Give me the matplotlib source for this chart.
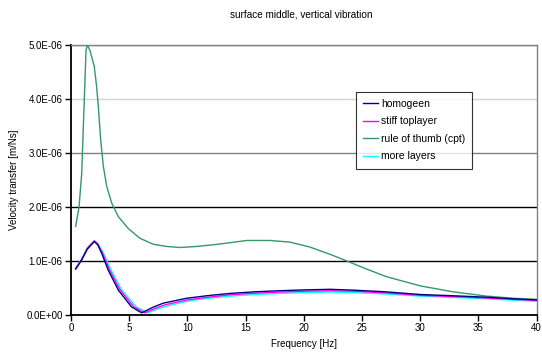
import matplotlib
matplotlib.use("Agg")
import matplotlib.pyplot as plt
from matplotlib.ticker import FuncFormatter

plt.rcParams['font.family'] = ['Liberation Sans', 'DejaVu Sans']

# Frequencies [Hz] and velocity transfer [m/Ns] per model
freq_rot = [0.4, 0.69, 0.92, 1.12, 1.29, 1.4, 1.63, 2.0, 2.2, 2.35, 2.55, 2.78, 3.07,
            3.5, 4.07, 4.93, 5.93, 7.07, 8.2, 9.36, 10.8, 12.2, 13.7, 15.1, 17.1, 18.8,
            20.5, 22.3, 23.7, 25.4, 27.1, 30.0, 32.8, 35.7, 38.0, 40.0]
v_rot = [1.64e-6, 2.0e-6, 2.62e-6, 3.86e-6, 4.9e-6, 5.0e-6, 4.9e-6, 4.6e-6, 4.23e-6,
         3.86e-6, 3.24e-6, 2.75e-6, 2.38e-6, 2.07e-6, 1.82e-6, 1.6e-6, 1.42e-6,
         1.31e-6, 1.27e-6, 1.25e-6, 1.27e-6, 1.30e-6, 1.34e-6, 1.38e-6, 1.38e-6,
         1.35e-6, 1.26e-6, 1.12e-6, 1.0e-6, 0.85e-6, 0.71e-6, 0.54e-6, 0.43e-6,
         0.35e-6, 0.31e-6, 0.29e-6]

freq_hom = [0.4, 0.92, 1.4, 2.0, 2.3, 2.64, 3.2, 4.07, 5.2, 6.07, 7.0, 7.93, 9.93,
            11.8, 13.66, 15.8, 17.96, 20.0, 22.25, 24.3, 27.0, 30.0, 33.0, 35.7, 38.0, 40.0]
v_hom = [0.85e-6, 1.02e-6, 1.22e-6, 1.36e-6, 1.30e-6, 1.14e-6, 0.83e-6, 0.46e-6,
         0.15e-6, 0.04e-6, 0.14e-6, 0.22e-6, 0.31e-6, 0.36e-6, 0.40e-6, 0.43e-6,
         0.45e-6, 0.465e-6, 0.476e-6, 0.46e-6, 0.43e-6, 0.38e-6, 0.355e-6, 0.33e-6,
         0.30e-6, 0.28e-6]

freq_stiff = [0.4, 0.92, 1.4, 2.0, 2.3, 2.7, 3.3, 4.2, 5.4, 6.35, 7.2, 8.1, 10.0,
              11.8, 13.66, 15.8, 17.96, 20.0, 22.25, 24.3, 27.0, 30.0, 33.0, 35.7, 38.0, 40.0]
v_stiff = [0.86e-6, 1.03e-6, 1.23e-6, 1.37e-6, 1.31e-6, 1.15e-6, 0.84e-6, 0.47e-6,
           0.15e-6, 0.04e-6, 0.12e-6, 0.19e-6, 0.28e-6, 0.33e-6, 0.375e-6, 0.405e-6,
           0.425e-6, 0.44e-6, 0.45e-6, 0.44e-6, 0.41e-6, 0.365e-6, 0.34e-6, 0.315e-6,
           0.29e-6, 0.27e-6]

freq_more = [0.4, 0.92, 1.4, 2.0, 2.3, 2.75, 3.4, 4.3, 5.6, 6.6, 7.4, 8.3, 10.1,
             11.8, 13.66, 15.8, 17.96, 20.0, 22.25, 24.3, 27.0, 30.0, 33.0, 35.7, 38.0, 40.0]
v_more = [0.87e-6, 1.04e-6, 1.25e-6, 1.38e-6, 1.33e-6, 1.16e-6, 0.85e-6, 0.48e-6,
          0.15e-6, 0.04e-6, 0.11e-6, 0.17e-6, 0.26e-6, 0.31e-6, 0.35e-6, 0.38e-6,
          0.40e-6, 0.415e-6, 0.425e-6, 0.415e-6, 0.39e-6, 0.35e-6, 0.325e-6, 0.30e-6,
          0.275e-6, 0.255e-6]

x_ticks = [0, 5, 10, 15, 20, 25, 30, 35, 40]
y_ticks = [0.0, 1e-6, 2e-6, 3e-6, 4e-6, 5e-6]
grid_colors = ['none', 'black', 'black', '#808080', '#d4d4d4', '#808080']

fig = plt.figure(figsize=(5.42, 3.57), dpi=100)
ax = fig.add_axes([0.131, 0.1176, 0.859, 0.7564])

ax.plot(freq_hom, v_hom, color='#000080', lw=1.0, label='homogeen', zorder=5)
ax.plot(freq_stiff, v_stiff, color='#ff00ff', lw=1.0, label='stiff toplayer', zorder=4)
ax.plot(freq_rot, v_rot, color='#339966', lw=1.0, label='rule of thumb (cpt)', zorder=3)
ax.plot(freq_more, v_more, color='#00ffff', lw=1.0, label='more layers', zorder=2)

ax.set_xlim(0, 40)
ax.set_ylim(0, 5e-6)
ax.set_xticks(x_ticks)
ax.set_yticks(y_ticks)
ax.yaxis.set_major_formatter(FuncFormatter(lambda v, p: f"{v:.1E}"))
ax.tick_params(axis='both', direction='out', length=4, width=1, labelsize=7, pad=2)

for ytick_val, c in zip(y_ticks, grid_colors):
    if c != 'none':
        ax.axhline(ytick_val, color=c, lw=1.0, zorder=1)

for side in ('top', 'right'):
    ax.spines[side].set_color('#808080')
    ax.spines[side].set_linewidth(1.0)
for side in ('left', 'bottom'):
    ax.spines[side].set_color('black')
    ax.spines[side].set_linewidth(1.3)

ax.set_xlabel('Frequency [Hz]', fontsize=7, labelpad=4)
ax.set_ylabel('Velocity transfer [m/Ns]', fontsize=7, labelpad=5)
fig.text(0.555, 0.958, 'surface middle, vertical vibration', ha='center', va='center',
         fontsize=7.2)

leg = ax.legend(loc='upper left', bbox_to_anchor=(0.612, 0.827), fontsize=7.5,
                frameon=True, fancybox=False, handlelength=1.45, handletextpad=0.25,
                borderpad=0.7, labelspacing=0.72, borderaxespad=0)
leg.get_frame().set_edgecolor('black')
leg.get_frame().set_linewidth(0.8)

fig.savefig('out.png', dpi=100)
